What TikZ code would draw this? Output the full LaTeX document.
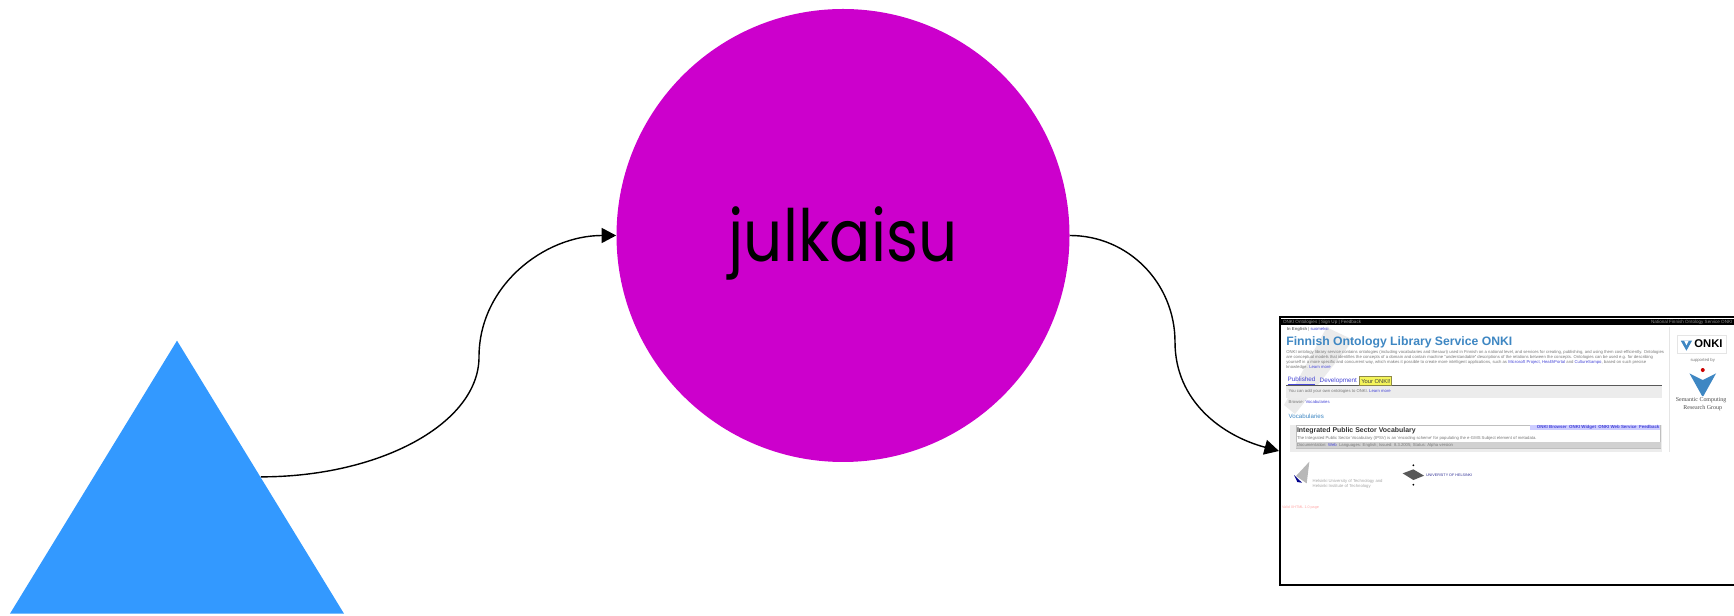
\documentclass[tikz,border=0pt]{standalone}
\usepackage{xcolor}
\usepackage{fontspec}
\usepackage{tikz}
\usetikzlibrary{arrows.meta,positioning,shapes.geometric}
\setmainfont{Liberation Sans}
\newfontfamily\pubfont[FakeStretch=0.85]{Poppins}
\newfontfamily\logofont{Liberation Serif}
\definecolor{PubPurple}{RGB}{204,0,204}
\definecolor{SkyBlue}{RGB}{51,153,255}
\definecolor{TitleBlue}{RGB}{62,135,195}
\definecolor{LinkBlue}{RGB}{70,70,215}
\definecolor{BandGray}{RGB}{236,236,236}
\definecolor{SoftText}{RGB}{120,120,120}
\definecolor{TabYellow}{RGB}{245,245,90}
\definecolor{BtnBlue}{RGB}{205,205,255}

\begin{document}
\begin{tikzpicture}[
 link/.style={-{Triangle[length=2.9mm,width=3mm]}, line width=0.8pt},
 pubcircle/.style={circle, fill=PubPurple, minimum size=9.06cm, inner sep=0pt, text height=35pt, text depth=5pt, font=\pubfont\fontsize{41}{41}\selectfont},
 source/.style={isosceles triangle, isosceles triangle stretches, shape border rotate=90, fill=SkyBlue, inner sep=0pt, minimum width=6.68cm, minimum height=5.46cm},
 pageframe/.style={draw, line width=1.2pt, fill=white, minimum width=9.2cm, minimum height=5.36cm, inner sep=0pt},
 txt/.style={anchor=west, inner sep=0pt, text=SoftText, font=\fontsize{2.4}{3}\selectfont},
 lnk/.style={anchor=west, inner sep=0pt, text=LinkBlue, font=\fontsize{3.6}{4}\selectfont}
]
\useasboundingbox (0,0) rectangle (34.68,12.3);

\node[pubcircle] (pub) at (16.86,7.59) {julkaisu};
\node[source,anchor=lower side] (src) at (3.54,0.02) {};
\node[pageframe] (onki) at (30.2,3.28) {};
\coordinate (benda) at (9.58,5.16);
\coordinate (bendb) at (23.5,5.46);

\draw[link] (src.right side) .. controls +(2.4,0) and +(0,-1.32) .. (benda) to[out=90,in=180] (pub.west);
\draw[link] (pub.east) to[out=0,in=90] (bendb) to[out=-90,in=165] (onki.west);

% screenshot, coordinates in crop units
\begin{scope}[shift={(25.4,6.1)},x=0.006667cm,y=-0.006667cm]
\fill[black!8] (170,52) -- (250,90) -- (75,312) -- (42,285) -- cycle;
\fill[black] (32,28) rectangle (1396,46);
\node[anchor=west,inner sep=0pt,text=black!45,font=\fontsize{2.6}{3}\selectfont] (bara) at (38,38) {ONKI Ontologies | Sign Up | Feedback};
\node[anchor=east,inner sep=0pt,text=black!45,font=\fontsize{2.6}{3}\selectfont] (barb) at (1388,38) {National Finnish Ontology Service ONKI};
\node[txt] (lang) at (50,58) {\textbf{In English} | \textcolor{LinkBlue}{suomeksi}};
\node[anchor=west,inner sep=0pt,text=TitleBlue,font=\bfseries\fontsize{6.95}{8}\selectfont] (title) at (48,96) {Finnish Ontology Library Service ONKI};
\node[txt] (para) at (48,128) {ONKI ontology library service contains ontologies (including vocabularies and thesauri) used in Finnish on a national level, and services for creating, publishing, and using them cost-efficiently. Ontologies};
\node[txt] at (48,143) {are conceptual models that identifies the concepts of a domain and contain machine "understandable" descriptions of the relations between the concepts. Ontologies can be used e.g. for describing};
\node[txt] at (48,158) {yourself in a more specific and concurrent way, which makes it possible to create more intelligent applications, such as \textcolor{LinkBlue}{Microsoft Project, HealthPortal} and \textcolor{LinkBlue}{CultureSampo}, based on such precise};
\node[txt] at (48,173) {knowledge. \textcolor{LinkBlue}{Learn more}};

\fill[BandGray] (48,228) rectangle (1176,265);
\draw[black!65,line width=0.9pt] (48,226) -- (1176,226);
\fill[TabYellow] (268,199) rectangle (365,226);
\draw[black!50!yellow,line width=0.3pt] (268,199) rectangle (365,226);
\node[lnk] (published) at (52,213) {\underline{Published}};
\node[lnk,anchor=west] (develop) at (148,213) {Development};
\node[anchor=west,inner sep=0pt,text=black!75,font=\fontsize{3.3}{4}\selectfont] (your) at (273,213) {Your ONKI!};
\node[txt] (add) at (55,245) {You can add your own ontologies to ONKI. \textcolor{LinkBlue}{Learn more}};
\node[txt] (browse) at (55,275) {Browse: \textcolor{LinkBlue}{Vocabularies}};
\node[anchor=west,inner sep=0pt,text=TitleBlue,font=\fontsize{3.5}{4}\selectfont] (vocab) at (55,318) {Vocabularies};

\fill[BandGray] (60,345) rectangle (1176,427);
\draw[black!25,line width=0.3pt,fill=white] (78,345) rectangle (1172,415);
\fill[black!18] (78,397) rectangle (1172,415);
\fill[BtnBlue] (780,346) rectangle (1170,359);
\node[anchor=west,inner sep=0pt,text=black!80,font=\bfseries\fontsize{3.95}{5}\selectfont] (ipsv) at (80,361) {Integrated Public Sector Vocabulary};
\node[anchor=east,inner sep=0pt,text=LinkBlue,font=\bfseries\fontsize{2.5}{3}\selectfont] (btns) at (1169,353) {ONKI Browser \ ONKI Widget \ ONKI Web Service \ Feedback};
\node[txt] (ipsvtxt) at (80,384) {The Integrated Public Sector Vocabulary (IPSV) is an 'encoding scheme' for populating the e-GMS Subject element of metadata.};
\node[txt] (ipsvdoc) at (80,406) {Documentation: \textcolor{LinkBlue}{Web} \ Languages: English; Issued: 8.3.2005; Status: Alpha version};

% right column
\draw[black!10,line width=0.4pt] (1197,50) -- (1197,425);
\draw[black!10,line width=0.4pt] (1222,75) rectangle (1370,130);
\fill[TitleBlue] (1232,92) -- (1266,92) -- (1249,122) -- cycle;
\fill[white] (1242,92) -- (1256,92) -- (1249,106) -- cycle;
\node[anchor=west,inner sep=0pt,font=\bfseries\fontsize{6.4}{7}\selectfont] (onkilogo) at (1272,100) {ONKI};
\node[txt,anchor=center] (support) at (1298,150) {supported by};
\fill[red!80!black] (1298,180) circle (6);
\fill[TitleBlue] (1258,190) -- (1298,210) -- (1338,190) -- (1300,258) -- (1296,258) -- cycle;
\node[anchor=center,inner sep=0pt,text=black!70,font=\logofont\fontsize{3.4}{4}\selectfont] (sem) at (1293,271) {Semantic Computing};
\node[anchor=center,inner sep=0pt,text=black!70,font=\logofont\fontsize{3.4}{4}\selectfont] (res) at (1298,293) {Research Group};

% bottom logos
\fill[black!28] (118,455) -- (78,498) -- (110,520) -- cycle;
\fill[blue!55!black] (72,495) -- (96,518) -- (82,516) -- cycle;
\node[txt,text=black!35] (tkk) at (127,513) {Helsinki University of Technology and};
\node[txt,text=black!35] (tkkb) at (127,528) {Helsinki Institute of Technology};
\fill[black!65] (398,490) -- (430,478) -- (462,497) -- (430,510) -- cycle;
\fill[black] (430,466) circle (3) (430,524) circle (3);
\node[txt,text=LinkBlue!70!black,font=\fontsize{2.1}{3}\selectfont] (uh) at (467,495) {UNIVERSITY OF HELSINKI};
\node[txt,text=red!35,font=\fontsize{2.1}{3}\selectfont] (valid) at (35,593) {Valid XHTML 1.0 page};
\end{scope}
\end{tikzpicture}
\end{document}
